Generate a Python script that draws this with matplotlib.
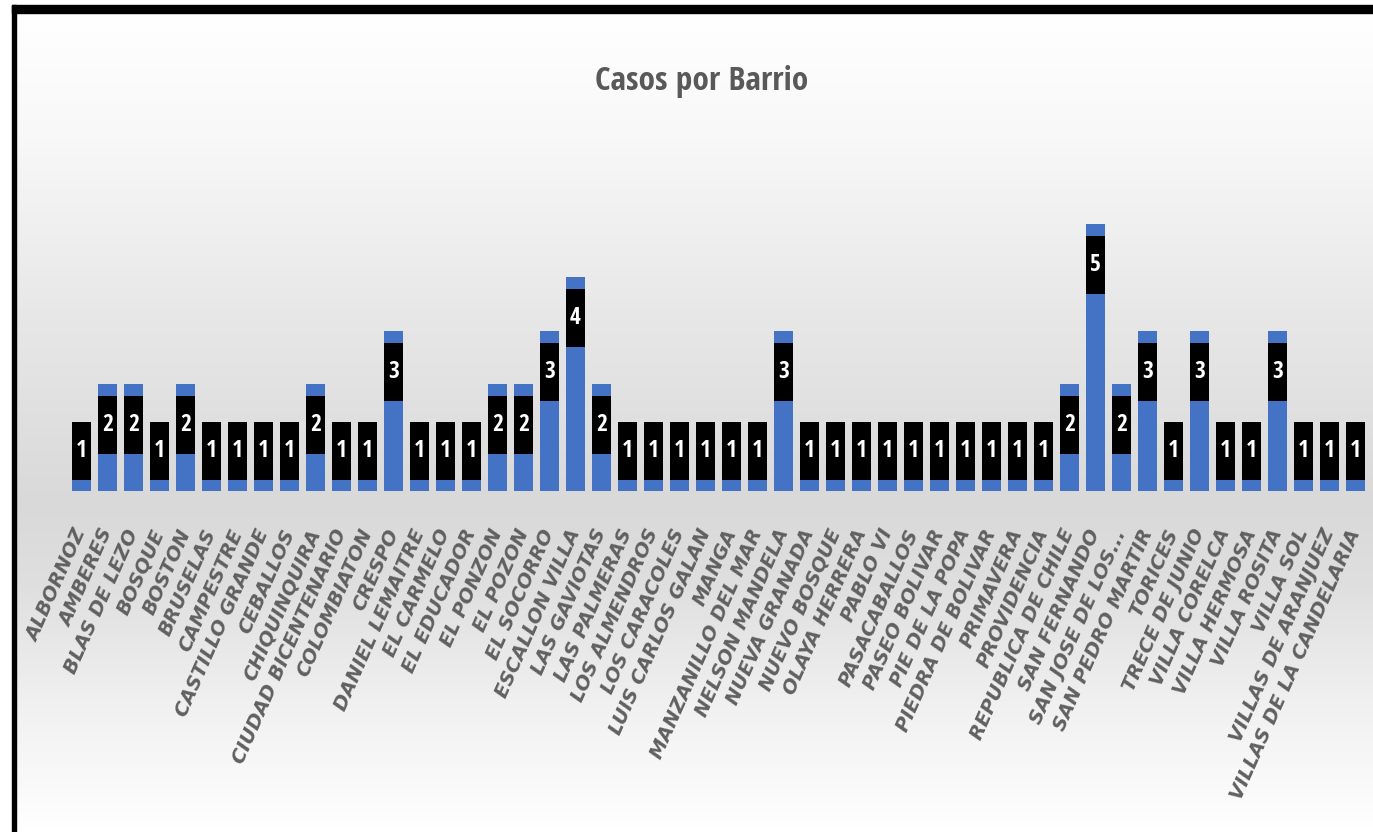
import matplotlib
matplotlib.use('Agg')
from matplotlib import pyplot as plt
from matplotlib import font_manager
from matplotlib.colors import LinearSegmentedColormap
from matplotlib.patches import Rectangle
import numpy as np

barrios = ["ALBORNOZ", "AMBERES", "BLAS DE LEZO", "BOSQUE", "BOSTON", "BRUSELAS",
           "CAMPESTRE", "CASTILLO GRANDE", "CEBALLOS", "CHIQUINQUIRA",
           "CIUDAD BICENTENARIO", "COLOMBIATON", "CRESPO", "DANIEL LEMAITRE",
           "EL CARMELO", "EL EDUCADOR", "EL PONZON", "EL POZON", "EL SOCORRO",
           "ESCALLON VILLA", "LAS GAVIOTAS", "LAS PALMERAS", "LOS ALMENDROS",
           "LOS CARACOLES", "LUIS CARLOS GALAN", "MANGA", "MANZANILLO DEL MAR",
           "NELSON MANDELA", "NUEVA GRANADA", "NUEVO BOSQUE", "OLAYA HERRERA",
           "PABLO VI", "PASACABALLOS", "PASEO BOLIVAR", "PIE DE LA POPA",
           "PIEDRA DE BOLIVAR", "PRIMAVERA", "PROVIDENCIA", "REPUBLICA DE CHILE",
           "SAN FERNANDO", "SAN JOSE DE LOS...", "SAN PEDRO MARTIR", "TORICES",
           "TRECE DE JUNIO", "VILLA CORELCA", "VILLA HERMOSA", "VILLA ROSITA",
           "VILLA SOL", "VILLAS DE ARANJUEZ", "VILLAS DE LA CANDELARIA"]
casos = [1, 2, 2, 1, 2, 1, 1, 1, 1, 2,
         1, 1, 3, 1, 1, 1, 2, 2, 3, 4,
         2, 1, 1, 1, 1, 1, 1, 3, 1, 1,
         1, 1, 1, 1, 1, 1, 1, 1, 2, 5,
         2, 3, 1, 3, 1, 1, 3, 1, 1, 1]

W, H = 1373, 832

# condensed font for title and numbers (the source image is squeezed sideways)
installed = {f.name for f in font_manager.fontManager.ttflist}
narrow = 'Open Sans Condensed' if 'Open Sans Condensed' in installed else 'DejaVu Sans'

fig = plt.figure(figsize=(W / 100, H / 100), dpi=100)
fig.patch.set_facecolor('white')

# excel-ish background gradient, light at top and bottom, grey in the middle
bgcmap = LinearSegmentedColormap.from_list("bg", [
    (0.0, "#ffffff"), (0.15, "#f8f8f8"), (0.36, "#e8e8e8"), (0.6, "#d9d9d9"),
    (0.7, "#dfdfdf"), (0.85, "#f1f1f1"), (1.0, "#ffffff")])
bg = fig.add_axes([16 / W, 0, 1 - 16 / W, 1 - 13 / H])
bg.imshow(np.linspace(0, 1, 256).reshape(-1, 1), aspect='auto', cmap=bgcmap,
          extent=[0, 1, 0, 1], origin='upper')
bg.axis('off')

# black frame, top and left only
fig.add_artist(Rectangle((12 / W, 0), 4 / W, 1 - 5 / H, transform=fig.transFigure,
                         color='black', zorder=5))
fig.add_artist(Rectangle((12 / W, 1 - 13 / H), 1 - 12 / W, 8 / H, transform=fig.transFigure,
                         color='black', zorder=5))

unit = 53.5
ax = fig.add_axes([68.5 / W, (H - 491) / H, 1300 / W, 5.5 * unit / H])
ax.set_facecolor('none')
x = np.arange(len(barrios))
vals = np.array(casos)
ax.bar(x, vals, width=0.72, color='#4472C4', zorder=2)

# black label boxes near the top of each bar
boxh = 1.085
box_bottom = np.maximum(vals - 1.31, 0.205)
ax.bar(x, boxh, bottom=box_bottom, width=0.72, color='black', zorder=3)
for xi, v, b in zip(x, vals, box_bottom):
    ax.text(xi, b + boxh / 2, str(v), ha='center', va='center', color='white',
            fontsize=17, fontweight='bold', family=[narrow, 'DejaVu Sans'], zorder=4)

ax.set_xlim(-0.5, len(barrios) - 0.5)
ax.set_ylim(0, 5.5)
ax.set_yticks([])
ax.set_xticks(x)
ax.set_xticklabels(barrios, rotation=66, ha='right', va='center', rotation_mode='anchor',
                   fontsize=14, fontweight='bold', fontstyle='italic', color='#606060',
                   family='DejaVu Sans')
ax.tick_params(axis='x', length=0, pad=28)
for s in ax.spines.values():
    s.set_visible(False)

fig.text(701.5 / W, 1 - 90 / H, "Casos por Barrio", ha='center', va='baseline',
         fontsize=24, fontweight='bold', color='#595959', family=[narrow, 'DejaVu Sans'])

fig.savefig('out.png', dpi=100)
